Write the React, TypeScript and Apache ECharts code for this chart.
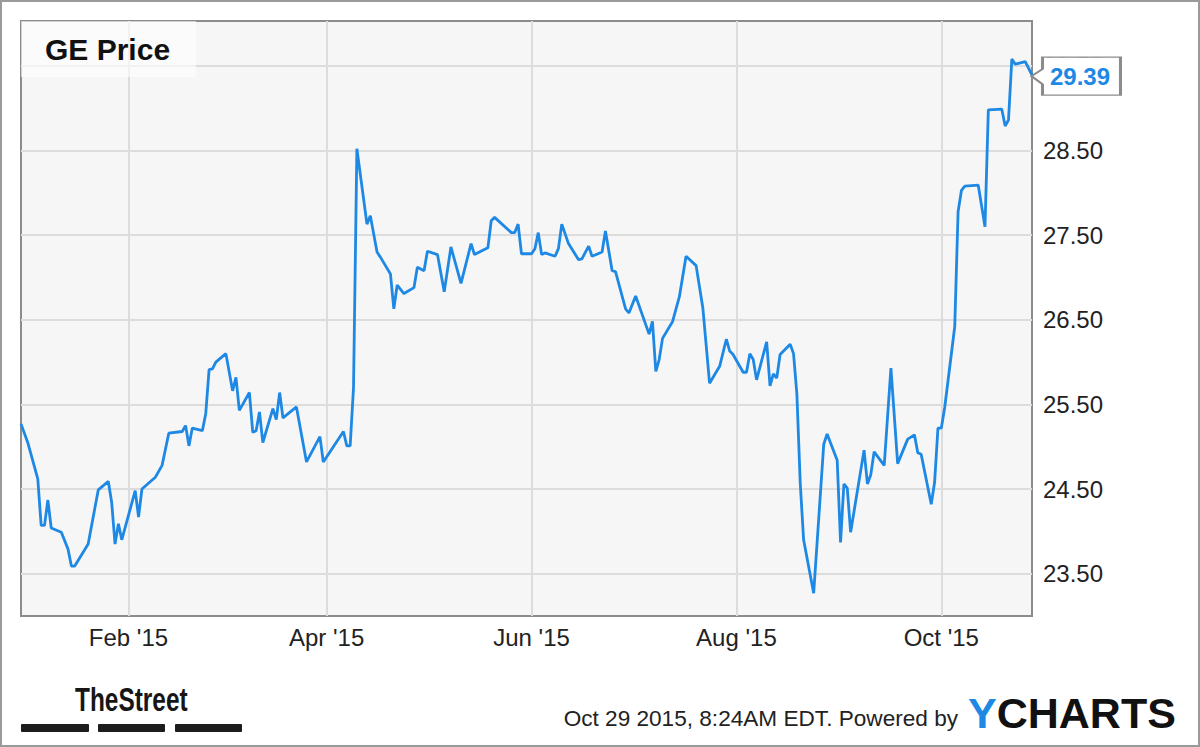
import React, { useEffect, useRef } from 'react';
import * as echarts from 'echarts';

// ---- data ----
const dates: string[] = [
  '2014-12-31', '2015-01-02', '2015-01-05', '2015-01-06', '2015-01-07', '2015-01-08', '2015-01-09',
  '2015-01-12', '2015-01-14', '2015-01-15', '2015-01-16', '2015-01-20', '2015-01-23', '2015-01-26',
  '2015-01-27', '2015-01-28', '2015-01-29', '2015-01-30', '2015-02-03', '2015-02-04', '2015-02-05',
  '2015-02-09', '2015-02-11', '2015-02-13', '2015-02-17', '2015-02-18', '2015-02-19', '2015-02-20',
  '2015-02-23', '2015-02-24', '2015-02-25', '2015-02-26', '2015-02-27', '2015-03-02', '2015-03-04',
  '2015-03-05', '2015-03-06', '2015-03-09', '2015-03-10', '2015-03-11', '2015-03-12', '2015-03-13',
  '2015-03-16', '2015-03-17', '2015-03-18', '2015-03-19', '2015-03-23', '2015-03-26', '2015-03-30',
  '2015-03-31', '2015-04-06', '2015-04-07', '2015-04-08', '2015-04-09', '2015-04-10', '2015-04-13',
  '2015-04-14', '2015-04-16', '2015-04-17', '2015-04-20', '2015-04-21', '2015-04-22', '2015-04-24',
  '2015-04-27', '2015-04-28', '2015-04-30', '2015-05-01', '2015-05-04', '2015-05-06', '2015-05-08',
  '2015-05-11', '2015-05-14', '2015-05-15', '2015-05-19', '2015-05-20', '2015-05-21', '2015-05-26',
  '2015-05-27', '2015-05-28', '2015-05-29', '2015-06-01', '2015-06-02', '2015-06-03', '2015-06-04',
  '2015-06-05', '2015-06-08', '2015-06-09', '2015-06-10', '2015-06-12', '2015-06-15', '2015-06-16',
  '2015-06-18', '2015-06-19', '2015-06-22', '2015-06-23', '2015-06-25', '2015-06-26', '2015-06-29',
  '2015-06-30', '2015-07-02', '2015-07-06', '2015-07-07', '2015-07-08', '2015-07-09', '2015-07-10',
  '2015-07-13', '2015-07-15', '2015-07-17', '2015-07-20', '2015-07-22', '2015-07-24', '2015-07-27',
  '2015-07-29', '2015-07-30', '2015-07-31', '2015-08-03', '2015-08-04', '2015-08-05', '2015-08-06',
  '2015-08-07', '2015-08-10', '2015-08-11', '2015-08-12', '2015-08-13', '2015-08-14', '2015-08-17',
  '2015-08-18', '2015-08-19', '2015-08-20', '2015-08-21', '2015-08-24', '2015-08-27', '2015-08-28',
  '2015-08-31', '2015-09-01', '2015-09-02', '2015-09-03', '2015-09-04', '2015-09-08', '2015-09-09',
  '2015-09-10', '2015-09-11', '2015-09-14', '2015-09-16', '2015-09-18', '2015-09-21', '2015-09-23',
  '2015-09-24', '2015-09-25', '2015-09-28', '2015-09-29', '2015-09-30', '2015-10-01', '2015-10-02',
  '2015-10-05', '2015-10-06', '2015-10-07', '2015-10-08', '2015-10-12', '2015-10-14', '2015-10-15',
  '2015-10-19', '2015-10-20', '2015-10-21', '2015-10-22', '2015-10-23', '2015-10-26', '2015-10-28',
];

const prices: number[] = [
  25.27, 25.05, 24.62, 24.07, 24.07, 24.37, 24.04,
  23.99, 23.79, 23.59, 23.59, 23.85, 24.49, 24.59,
  24.34, 23.85, 24.09, 23.90, 24.48, 24.17, 24.50,
  24.64, 24.78, 25.16, 25.18, 25.25, 25.01, 25.22,
  25.19, 25.39, 25.91, 25.92, 26.00, 26.10, 25.66,
  25.82, 25.43, 25.64, 25.17, 25.19, 25.41, 25.05,
  25.45, 25.32, 25.64, 25.34, 25.47, 24.82, 25.12,
  24.82, 25.18, 25.01, 25.01, 25.70, 28.52, 27.63,
  27.73, 27.30, 27.24, 27.04, 26.63, 26.91, 26.81,
  26.88, 27.12, 27.08, 27.31, 27.27, 26.83, 27.36,
  26.93, 27.40, 27.27, 27.35, 27.67, 27.71, 27.53,
  27.53, 27.63, 27.28, 27.28, 27.34, 27.53, 27.27,
  27.29, 27.25, 27.34, 27.63, 27.40, 27.21, 27.22,
  27.37, 27.25, 27.30, 27.55, 27.08, 27.07, 26.63,
  26.58, 26.78, 26.33, 26.48, 25.89, 26.03, 26.28,
  26.48, 26.77, 27.25, 27.14, 26.64, 25.75, 25.95,
  26.27, 26.13, 26.09, 25.88, 25.88, 26.10, 26.03,
  25.79, 26.24, 25.72, 25.86, 25.81, 26.09, 26.21,
  26.10, 25.62, 24.57, 23.90, 23.27, 25.03, 25.15,
  24.84, 23.87, 24.56, 24.51, 23.99, 24.96, 24.56,
  24.67, 24.94, 24.78, 25.93, 24.80, 25.09, 25.14,
  24.93, 24.91, 24.32, 24.58, 25.22, 25.22, 25.46,
  26.42, 27.78, 28.03, 28.08, 28.09, 27.60, 28.98,
  28.99, 28.79, 28.86, 29.58, 29.52, 29.55, 29.39,
];

const monthTicks: string[] = ['2015-02-01', '2015-04-01', '2015-06-01', '2015-08-01', '2015-10-01'];
const monthLabels: string[] = ["Feb '15", "Apr '15", "Jun '15", "Aug '15", "Oct '15"];
const priceTicks: number[] = [23.5, 24.5, 25.5, 26.5, 27.5, 28.5, 29.5];
const xStart = '2014-12-31';
const xEnd = '2015-10-28';
const yMin = 23;
const yMax = 30.03;
const titleText = 'GE Price';
const footerText = 'Oct 29 2015, 8:24AM EDT. Powered by';
const brandLeft = 'TheStreet';

const FONT = '"Liberation Sans", Arial, Helvetica, sans-serif';
const BLUE = '#1e88e5';

const ts = (s: string) => new Date(s + 'T00:00:00').getTime();

export default function App() {
  const ref = useRef<HTMLDivElement>(null);

  useEffect(() => {
    if (!ref.current) return;
    const chart = echarts.init(ref.current, undefined, { renderer: 'svg' });
    const lastIdx = prices.length - 1;
    const lineData = dates.map((d, i) => [ts(d), prices[i]]);

    const option: any = {
      animation: false,
      backgroundColor: '#ffffff',
      title: {
        text: titleText,
        left: 21,
        top: 21,
        padding: [13, 26, 13, 24],
        backgroundColor: 'rgba(255,255,255,0.6)',
        textStyle: { fontFamily: FONT, fontWeight: 'bold', fontSize: 30, color: '#111111' },
      },
      grid: {
        left: 21,
        top: 21,
        right: 168,
        bottom: 131,
        show: true,
        backgroundColor: '#f6f6f6',
        borderColor: '#8c8c8c',
        borderWidth: 2,
      },
      xAxis: {
        type: 'time',
        min: ts(xStart),
        max: ts(xEnd),
        axisLine: { show: false },
        axisTick: { show: false },
        axisLabel: { show: false },
        splitLine: { show: false },
      },
      yAxis: {
        type: 'value',
        position: 'right',
        min: yMin,
        max: yMax,
        interval: 0.5,
        axisLine: { show: false },
        axisTick: { show: false },
        splitLine: { show: false },
        axisLabel: {
          margin: 11,
          fontSize: 24,
          color: '#222222',
          fontFamily: FONT,
          formatter: (v: number) =>
            priceTicks.some((t) => Math.abs(t - v) < 1e-6) ? v.toFixed(2) : '',
        },
      },
      series: [
        {
          type: 'line',
          data: [],
          silent: true,
          z: 1,
          markLine: {
            z: 1,
            silent: true,
            animation: false,
            symbol: ['none', 'none'],
            lineStyle: { color: '#dcdcdc', width: 2, type: 'solid' },
            label: { show: false },
            emphasis: { disabled: true },
            data: [
              ...priceTicks.map((v) => ({ yAxis: v })),
              ...monthTicks.map((d, i) => ({
                xAxis: ts(d),
                name: monthLabels[i],
                label: {
                  show: true,
                  position: 'start',
                  formatter: '{b}',
                  distance: 9,
                  fontSize: 24,
                  color: '#222222',
                  fontFamily: FONT,
                },
              })),
            ],
          },
        },
        {
          type: 'line',
          z: 3,
          data: lineData,
          showSymbol: false,
          symbol: 'none',
          silent: true,
          lineStyle: { color: BLUE, width: 2.8 },
          itemStyle: { color: BLUE },
          markPoint: {
            z: 10,
            silent: true,
            animation: false,
            symbol: 'path://M0,19 L11,12 L11,0 L89,0 L89,38 L11,38 L11,27 Z',
            symbolSize: [89, 38],
            symbolOffset: [44, 1],
            itemStyle: { color: '#ffffff', borderColor: '#8c8c8c', borderWidth: 2 },
            label: {
              show: true,
              position: 'inside',
              offset: [4, 0],
              formatter: () => prices[lastIdx].toFixed(2),
              color: BLUE,
              fontWeight: 'bold',
              fontSize: 24,
              fontFamily: FONT,
            },
            data: [{ coord: [ts(dates[lastIdx]), prices[lastIdx]] }],
          },
        },
      ],
      graphic: [
        {
          type: 'rect',
          silent: true,
          z: 0,
          shape: { x: 1, y: 1, width: 1198, height: 745 },
          style: { fill: 'none', stroke: '#9a9a9a', lineWidth: 2 },
        },
        {
          type: 'text',
          silent: true,
          x: 75,
          y: 700,
          scaleX: 0.74,
          style: {
            text: brandLeft,
            fill: '#161616',
            font: 'bold 33px ' + FONT,
            align: 'left',
            verticalAlign: 'middle',
          },
        },
        {
          type: 'rect', silent: true,
          shape: { x: 21, y: 724, width: 68, height: 8, r: 1 },
          style: { fill: '#1c1c1c' },
        },
        {
          type: 'rect', silent: true,
          shape: { x: 98, y: 724, width: 67, height: 8, r: 1 },
          style: { fill: '#1c1c1c' },
        },
        {
          type: 'rect', silent: true,
          shape: { x: 175, y: 724, width: 67, height: 8, r: 1 },
          style: { fill: '#1c1c1c' },
        },
        {
          type: 'text',
          silent: true,
          x: 958,
          y: 718,
          style: {
            text: footerText,
            fill: '#222222',
            font: '22.6px ' + FONT,
            align: 'right',
            verticalAlign: 'middle',
          },
        },
        {
          type: 'text',
          silent: true,
          x: 968,
          y: 713,
          style: {
            text: '{y|Y}{c|CHARTS}',
            font: 'bold 43px ' + FONT,
            align: 'left',
            verticalAlign: 'middle',
            rich: {
              y: { fill: BLUE, font: 'bold 43px ' + FONT },
              c: { fill: '#111111', font: 'bold 43px ' + FONT },
            },
          },
        },
      ],
    };

    chart.setOption(option);
    return () => chart.dispose();
  }, []);

  return (
    <div
      ref={ref}
      style={{ position: 'fixed', left: 0, top: 0, width: 1200, height: 747 }}
    />
  );
}
